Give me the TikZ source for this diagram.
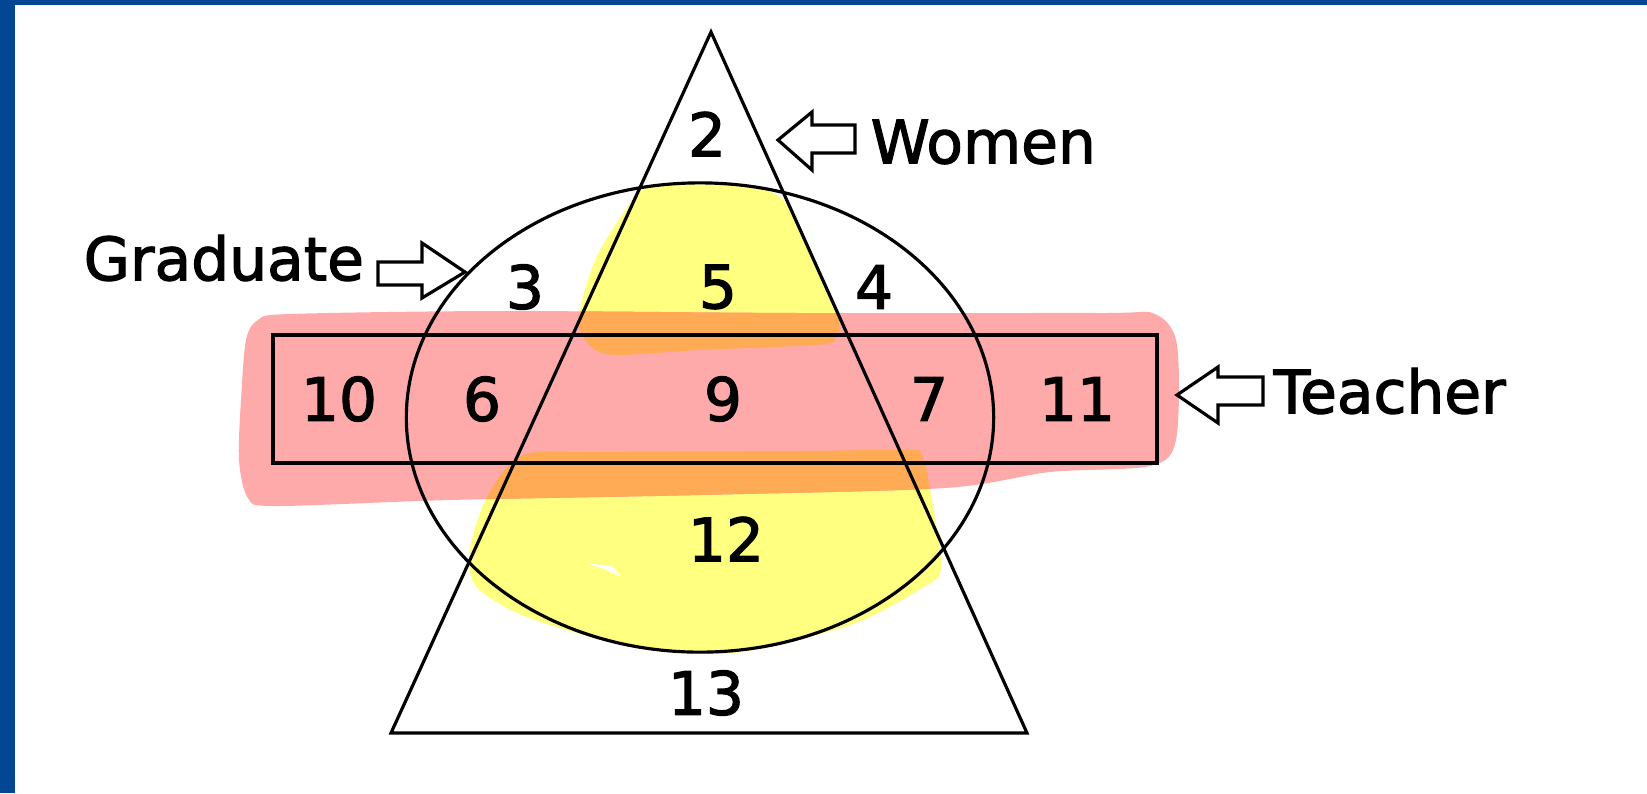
\documentclass[tikz,border=0pt]{standalone}
\usepackage{fontspec}
\setmainfont[FakeBold=2]{DejaVu Sans}
\definecolor{frameblue}{RGB}{3,71,148}
\definecolor{pinkhl}{RGB}{255,170,170}
\definecolor{yellowhl}{RGB}{255,255,128}
\definecolor{orangehl}{RGB}{255,170,85}
\tikzset{
  outline/.style={draw=black, line width=0.9pt},
  boxline/.style={draw=black, line width=1.2pt},
  blockarrow/.style={draw=black, line width=0.9pt, line join=miter},
  lbl/.style={inner sep=0pt, font=\fontsize{17}{20}\selectfont, text=black},
}
\def\pinkpath{plot[smooth cycle, tension=0.5] coordinates {(290,314) (500,311) (800,313) (1100,313) (1155,314) (1177,345) (1176,440) (1150,466) (1050,472) (945,488) (700,495) (450,500) (275,506) (248,498) (239,460) (241,400) (246,340) (258,320)}}
\def\yupper{plot[smooth cycle, tension=0.5] coordinates {(660,185) (743,186) (783,200) (815,260) (838,318) (835,340) (815,345) (700,350) (620,355) (595,350) (580,330) (582,300) (600,250) (637,195)}}
\def\ylower{plot[smooth cycle, tension=0.5] coordinates {(523,455) (600,452) (800,451) (905,450) (922,455) (932,500) (941,568) (922,588) (850,625) (733,653) (640,648) (573,632) (515,612) (475,585) (470,548) (488,495)}}
\begin{document}
\begin{tikzpicture}[x=0.01cm, y=-0.01cm]
\useasboundingbox (0,0) rectangle (1647,793);
\fill[white] (0,0) rectangle (1647,793);
% blue frame
\fill[frameblue] (0,0) rectangle (15,793);
\fill[frameblue] (0,0) rectangle (1647,5);
% highlights
\fill[yellowhl] \yupper;
\fill[yellowhl] \ylower;
\fill[white] (585,563) -- (612,566) -- (622,577) -- (604,569) -- cycle;
\fill[pinkhl] \pinkpath;
\begin{scope}
  \clip \pinkpath;
  \fill[orangehl] \yupper;
  \fill[orangehl] \ylower;
\end{scope}
% sets
\draw[outline] (711,32) -- (391,733) -- (1027,733) -- cycle;
\draw[outline] (700,417.5) ellipse [x radius=2.935cm, y radius=2.345cm];
\draw[boxline] (273,335) rectangle (1157,463);
% block arrows
\draw[blockarrow] (778,140) -- (812,112) -- (812,125) -- (855,125) -- (855,153) -- (812,153) -- (812,170) -- cycle;
\draw[blockarrow] (378,262) -- (422,262) -- (422,243) -- (465,272) -- (422,298) -- (422,285) -- (378,285) -- cycle;
\draw[blockarrow] (1177,395) -- (1218,367) -- (1218,377) -- (1263,377) -- (1263,405) -- (1218,405) -- (1218,423) -- cycle;
% labels
\node[lbl, anchor=west] (women) at (870,142) {Women};
\node[lbl, anchor=west] (graduate) at (83,258) {Graduate};
\node[lbl, anchor=west] (teacher) at (1273,391) {Teacher};
\node[lbl] (n2) at (707,134) {2};
\node[lbl] (n3) at (525,287) {3};
\node[lbl] (n5) at (718,287) {5};
\node[lbl] (n4) at (874,287) {4};
\node[lbl] (n10) at (339,399) {10};
\node[lbl] (n6) at (482,399) {6};
\node[lbl] (n9) at (723,399) {9};
\node[lbl] (n7) at (929,399) {7};
\node[lbl] (n11) at (1077,399) {11};
\node[lbl] (n12) at (726,539) {12};
\node[lbl] (n13) at (706,693) {13};
\end{tikzpicture}
\end{document}
